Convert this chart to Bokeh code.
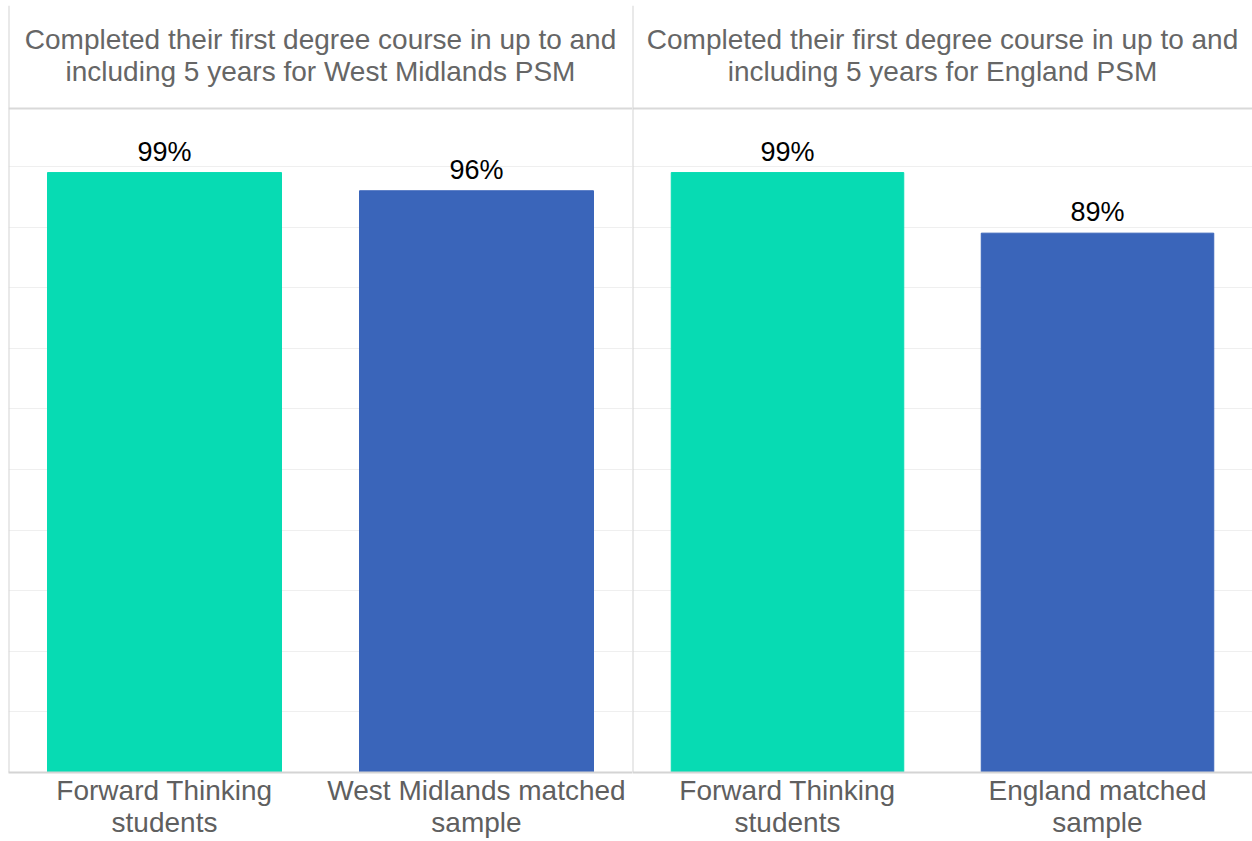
from bokeh.plotting import figure
from bokeh.models import Range1d, FactorRange, FixedTicker, Span, Label, ColumnDataSource
from bokeh.layouts import row
from bokeh.embed import file_html
from bokeh.resources import INLINE
from bokeh.core.properties import value

# ---- data ----
panel_titles = [
    "Completed their first degree course in up to and\nincluding 5 years for West Midlands PSM",
    "Completed their first degree course in up to and\nincluding 5 years for England PSM",
]
categories_left = ["Forward Thinking\nstudents", "West Midlands matched\nsample"]
categories_right = ["Forward Thinking\nstudents", "England matched\nsample"]
values_left = [99, 96]
values_right = [99, 89]
bar_colors = ["#07DBB3", "#3A65BA"]
grid_ticks = [10, 20, 30, 40, 50, 60, 70, 80, 90, 100]

FONT = "Liberation Sans"
Y_TOP = 126.57
HEADER_LINE = 109.57


def make_panel(title, cats, vals, width, left_pad):
    src = ColumnDataSource(dict(
        cat=cats, val=vals, color=bar_colors,
        lab=[f"{v}%" for v in vals],
    ))
    p = figure(
        x_range=FactorRange(*cats), y_range=Range1d(0, Y_TOP),
        width=width, height=841, output_backend="svg", toolbar_location=None,
        min_border_left=left_pad, min_border_right=0, min_border_top=5,
        min_border_bottom=69,
    )
    p.vbar(x="cat", top="val", width=0.75, color="color", source=src)
    p.text(x="cat", y="val", text="lab", source=src, text_align="center",
           text_baseline="bottom", y_offset=-6, text_font=value(FONT),
           text_font_size="27px", text_color="#000000")
    p.yaxis.visible = False
    p.xgrid.visible = False
    p.ygrid.ticker = FixedTicker(ticks=grid_ticks)
    p.ygrid.grid_line_color = "#efefef"
    p.ygrid.grid_line_width = 1
    p.outline_line_color = None
    p.xaxis.axis_line_color = "#d4d4d4"
    p.xaxis.axis_line_width = 2
    p.xaxis.major_tick_line_color = None
    p.xaxis.minor_tick_line_color = None
    p.xaxis.major_label_text_font = FONT
    p.xaxis.major_label_text_font_size = "28px"
    p.xaxis.major_label_text_line_height = 1.05
    p.xaxis.major_label_text_color = "#5f5f5f"
    p.xaxis.major_label_standoff = -4
    p.add_layout(Span(location=HEADER_LINE, dimension="width",
                      line_color="#d9d9d9", line_width=2))
    p.add_layout(Span(location=0, dimension="height",
                      line_color="#d4d4d4", line_width=2))
    p.add_layout(Label(x=1, y=118.35, text=title, text_align="center",
                       text_baseline="middle", text_font=FONT,
                       text_font_size="28px", text_line_height=1.05,
                       text_color="#666666"))
    return p


p1 = make_panel(panel_titles[0], categories_left, values_left, 632, 8)
p2 = make_panel(panel_titles[1], categories_right, values_right, 620, 0)
layout = row(p1, p2, spacing=0)

open("out.html", "w").write(file_html(layout, INLINE))
